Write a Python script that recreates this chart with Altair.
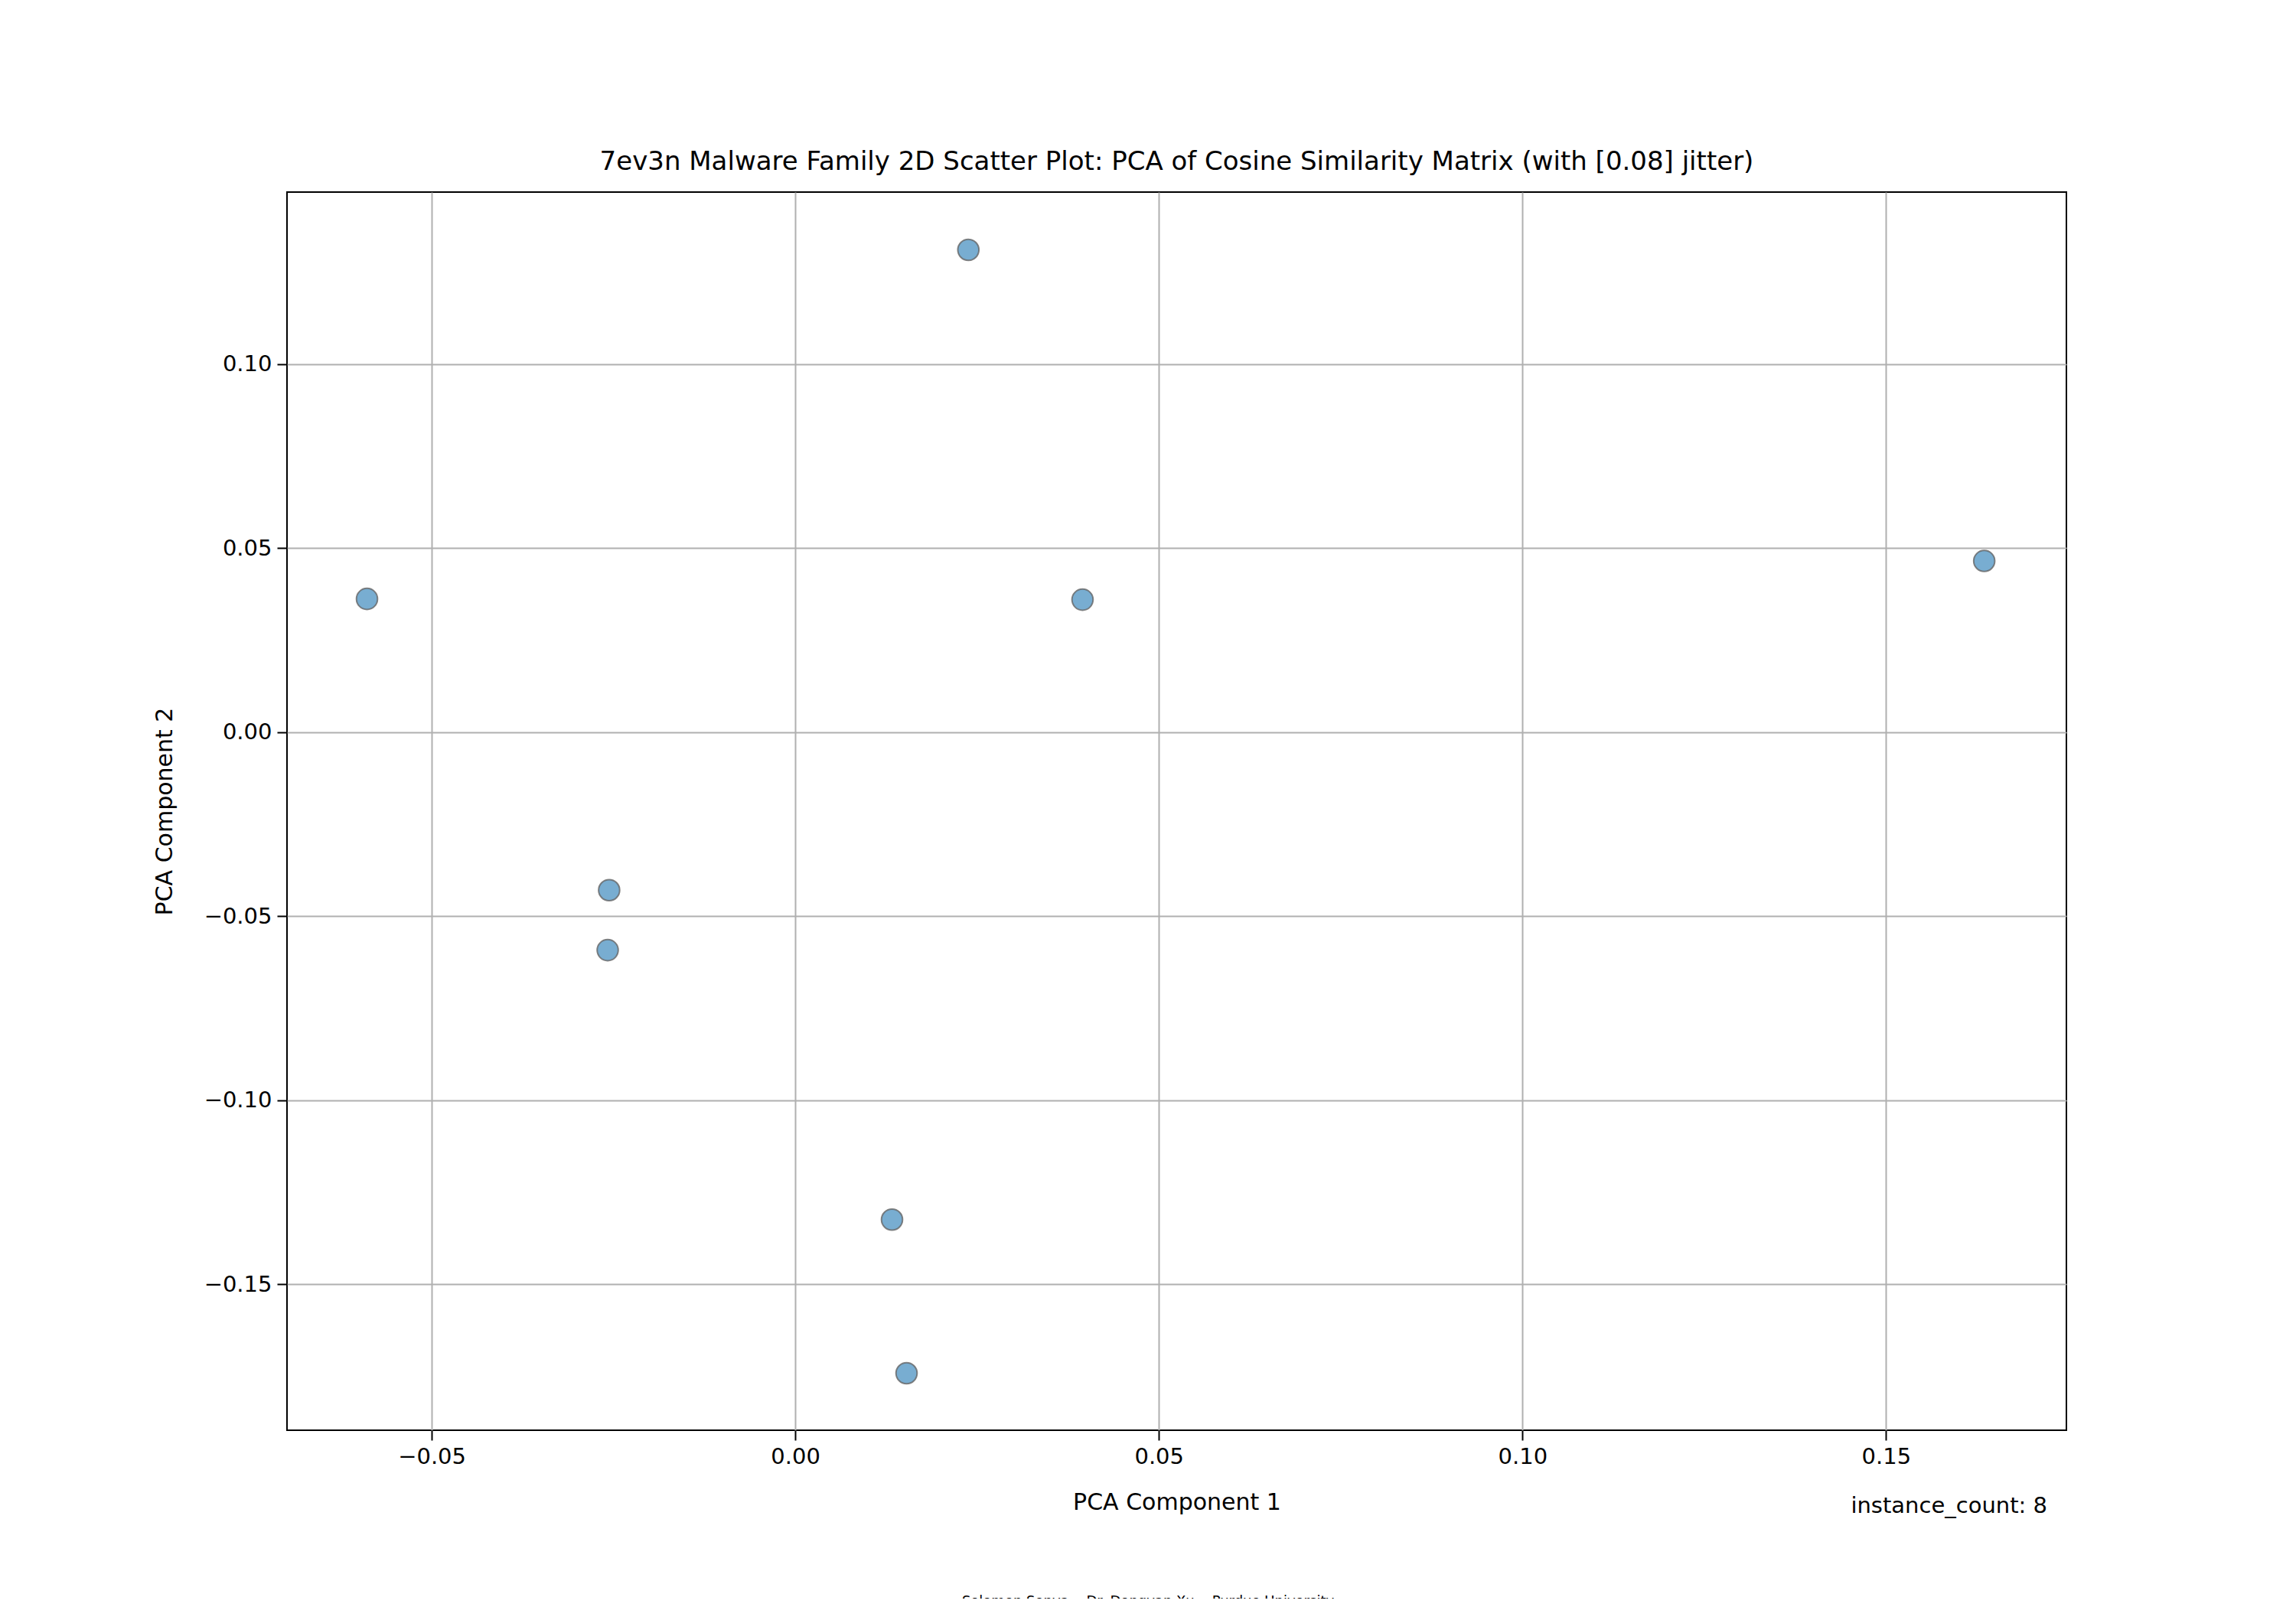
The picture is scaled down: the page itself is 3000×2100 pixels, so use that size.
import pandas as pd
import altair as alt

### point coordinates
pc1 = [-0.0589, 0.0238, 0.0395, 0.1635, -0.0256, -0.0258, 0.0133, 0.0153]
pc2 = [0.0362, 0.1310, 0.0360, 0.0465, -0.0429, -0.0592, -0.1324, -0.1741]

points = pd.DataFrame({"pc1": pc1, "pc2": pc2})

W, H = 2325, 1618
font = "DejaVu Sans"
nb = "\u00a0"

base = alt.Chart(points).mark_point(
    filled=True, size=760, color="#1f77b4", opacity=0.6,
    stroke="black", strokeWidth=2, strokeOpacity=0.8
).encode(
    x=alt.X("pc1:Q", title="PCA Component 1",
            scale=alt.Scale(domain=[-0.0699, 0.1748], nice=False, zero=False),
            axis=alt.Axis(values=[-0.05, 0, 0.05, 0.10, 0.15], format=".2f",
                          titlePadding=30)),
    y=alt.Y("pc2:Q", title="PCA Component 2",
            scale=alt.Scale(domain=[-0.1896, 0.1467], nice=False, zero=False),
            axis=alt.Axis(values=[-0.15, -0.10, -0.05, 0, 0.05, 0.10], format=".2f",
                          titlePadding=36)),
)

count_text = alt.Chart(pd.DataFrame({"t": ["instance_count: 8"]})).mark_text(
    align="right", baseline="middle", fontSize=29, font=font
).encode(text="t:N", x=alt.value(2300), y=alt.value(1717))

footer_label = f"Solomon Sonya{nb*4}Dr. Dongyan Xu{nb*4}Purdue University"
footer = alt.Chart(pd.DataFrame({"t": [footer_label]})).mark_text(
    align="center", baseline="middle", fontSize=18, font=font
).encode(text="t:N", x=alt.value(1125), y=alt.value(1842))

chart = alt.layer(base, count_text, footer).properties(
    width=W, height=H,
    background="white",
    title=alt.Title("7ev3n Malware Family 2D Scatter Plot: PCA of Cosine Similarity Matrix (with [0.08] jitter)",
                    fontSize=34, font=font, fontWeight="normal", offset=22),
    autosize=alt.AutoSizeParams(type="none"),
    padding={"left": 367, "top": 243, "right": 292, "bottom": 220},
).configure_view(
    stroke="black", strokeWidth=2
).configure_axis(
    labelFont=font, titleFont=font, labelFontSize=29, titleFontSize=30,
    titleFontWeight="normal", labelColor="black", titleColor="black",
    gridColor="#b0b0b0", gridWidth=2, gridOpacity=1, domain=False,
    tickColor="black", tickSize=13, tickWidth=2, labelPadding=7,
)

chart.save("out.html", embed_options={"renderer": "svg", "actions": False})
